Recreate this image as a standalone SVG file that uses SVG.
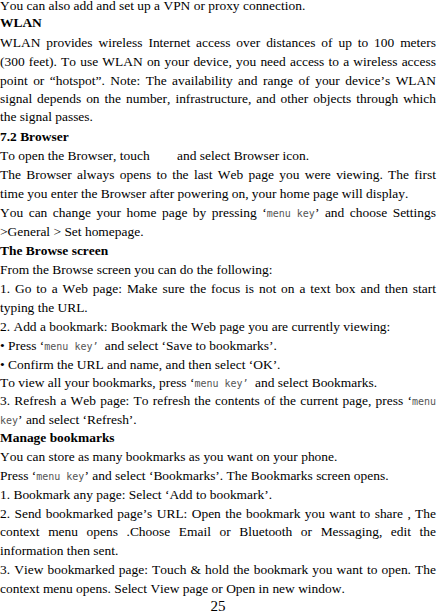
<svg xmlns="http://www.w3.org/2000/svg" width="437" height="614" viewBox="0 0 437 614">
<style>
text{font-family:"Liberation Serif","Times New Roman",serif;font-size:13.45px;fill:#000;font-kerning:none}
.b{font-weight:bold}
.m{font-family:"DejaVu Sans Mono","Liberation Mono",monospace;font-size:10px;fill:#555;word-spacing:0}
</style>
<rect width="437" height="614" fill="#fff"/>
<g id="page">
<text x="0" y="10">You can also add and set up a VPN or proxy connection.</text>
<text class="b" x="0" y="27">WLAN</text>
<text x="0" y="47" word-spacing="2.52" textLength="436" lengthAdjust="spacing">WLAN provides wireless Internet access over distances of up to 100 meters</text>
<text x="0" y="66" word-spacing="0.83" textLength="436" lengthAdjust="spacing">(300 feet). To use WLAN on your device, you need access to a wireless access</text>
<text x="0" y="85" word-spacing="2.15" textLength="436" lengthAdjust="spacing">point or “hotspot”. Note: The availability and range of your device’s WLAN</text>
<text x="0" y="102.5" word-spacing="1.61" textLength="436" lengthAdjust="spacing">signal depends on the number, infrastructure, and other objects through which</text>
<text x="0" y="121">the signal passes.</text>
<text class="b" x="0" y="140.5">7.2 Browser</text>
<text x="0" y="160">To open the Browser, touch<tspan x="177">and select Browser icon.</tspan></text>
<text x="0" y="179" word-spacing="1.93" textLength="436" lengthAdjust="spacing">The Browser always opens to the last Web page you were viewing. The first</text>
<text x="0" y="197.5">time you enter the Browser after powering on, your home page will display.</text>
<text x="0" y="217" word-spacing="2.15" textLength="436" lengthAdjust="spacing">You can change your home page by pressing ‘<tspan class="m">menu key</tspan>’ and choose Settings</text>
<text x="0" y="236">&gt;General &gt; Set homepage.</text>
<text class="b" x="0" y="255">The Browse screen</text>
<text x="0" y="274">From the Browse screen you can do the following:</text>
<text x="0" y="292.5" word-spacing="1.54" textLength="436" lengthAdjust="spacing">1. Go to a Web page: Make sure the focus is not on a text box and then start</text>
<text x="0" y="312">typing the URL.</text>
<text x="0" y="331">2. Add a bookmark: Bookmark the Web page you are currently viewing:</text>
<text x="0" y="350">• Press ‘<tspan class="m">menu key’</tspan> <tspan dx="3">and select ‘Save to bookmarks’.</tspan></text>
<text x="0" y="368.5">• Confirm the URL and name, and then select ‘OK’.</text>
<text x="0" y="386.5">To view all your bookmarks, press ‘<tspan class="m">menu key’</tspan> <tspan dx="3">and select Bookmarks.</tspan></text>
<text x="0" y="405" word-spacing="0.88" textLength="436" lengthAdjust="spacing">3. Refresh a Web page: To refresh the contents of the current page, press ‘<tspan class="m">menu</tspan></text>
<text x="0" y="424"><tspan class="m">key</tspan>’ and select ‘Refresh’.</text>
<text class="b" x="0" y="442">Manage bookmarks</text>
<text x="0" y="461">You can store as many bookmarks as you want on your phone.</text>
<text x="0" y="480">Press ‘<tspan class="m">menu key</tspan>’ and select ‘Bookmarks’. The Bookmarks screen opens.</text>
<text x="0" y="498.5">1. Bookmark any page: Select ‘Add to bookmark’.</text>
<text x="0" y="517.5" word-spacing="0.98" textLength="436" lengthAdjust="spacing">2. Send bookmarked page’s URL: Open the bookmark you want to share , The</text>
<text x="0" y="536" word-spacing="5.19" textLength="436" lengthAdjust="spacing">context menu opens .Choose Email or Bluetooth or Messaging, edit the</text>
<text x="0" y="555">information then sent.</text>
<text x="0" y="574.3" word-spacing="0.75" textLength="436" lengthAdjust="spacing">3. View bookmarked page: Touch &amp; hold the bookmark you want to open. The</text>
<text x="0" y="592.7">context menu opens. Select View page or Open in new window.</text>
<text x="218" y="611" text-anchor="middle" style="font-size:15px">25</text>
</g>
</svg>
